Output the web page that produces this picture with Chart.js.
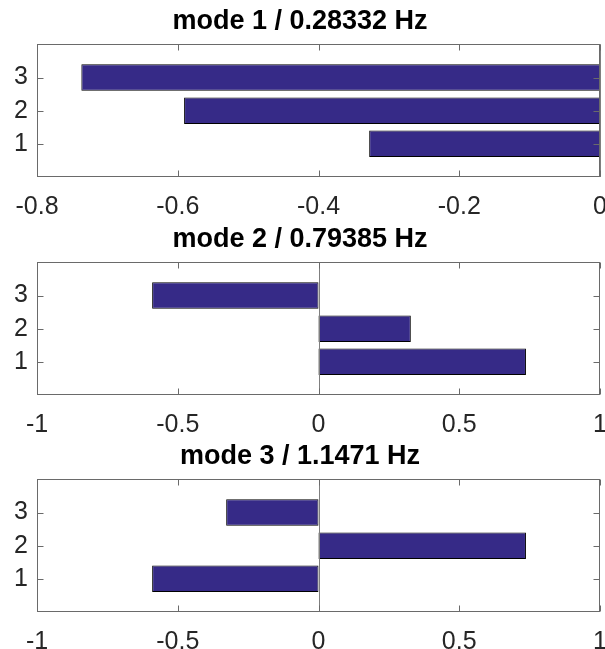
<!DOCTYPE html>
<html>
<head>
<meta charset="utf-8">
<script src="https://cdn.jsdelivr.net/npm/chart.js@4.4.1/dist/chart.umd.min.js"></script>
<style>
  html, body { margin: 0; padding: 0; background: #fff; overflow: hidden; width: 605px; height: 649px; }
  .panel { position: absolute; left: 0; width: 605px; height: 218px; }
</style>
</head>
<body>
<div class="panel" style="top:0px"><canvas id="c1"></canvas></div>
<div class="panel" style="top:218px"><canvas id="c2"></canvas></div>
<div class="panel" style="top:435px"><canvas id="c3"></canvas></div>
<script>
// ---- data ----
const categories = [1, 2, 3];
const titles = ['mode 1 / 0.28332 Hz', 'mode 2 / 0.79385 Hz', 'mode 3 / 1.1471 Hz'];
const mode1 = [-0.328, -0.591, -0.737];
const mode2 = [0.737, 0.328, -0.591];
const mode3 = [-0.591, 0.737, -0.328];
const xTicks1 = [-0.8, -0.6, -0.4, -0.2, 0];
const xTicks23 = [-1, -0.5, 0, 0.5, 1];
const yTicks = [1, 2, 3];

const FONT = "'Liberation Sans', Arial, Helvetica, sans-serif";
const BAR_COLOR = '#362a87';
const BOX_COLOR = '#6a6a6a';

const boxPlugin = {
  id: 'matlabBox',
  afterDatasetsDraw(chart) {
    const ctx = chart.ctx;
    const a = chart.chartArea;
    const xs = chart.scales.x, ys = chart.scales.y;
    ctx.save();
    // baseline at x = 0
    const x0 = Math.round(xs.getPixelForValue(0)) + 0.5;
    ctx.strokeStyle = '#7f7f7f';
    ctx.lineWidth = 1;
    ctx.beginPath();
    ctx.moveTo(x0, a.top);
    ctx.lineTo(x0, a.bottom);
    ctx.stroke();
    // box
    ctx.strokeStyle = BOX_COLOR;
    ctx.lineWidth = 1;
    const L = Math.round(a.left) + 0.5, R = Math.round(a.right) - 0.5;
    const T = Math.round(a.top) + 0.5, B = Math.round(a.bottom) - 0.5;
    ctx.strokeRect(L, T, R - L, B - T);
    // inward ticks
    const tl = 6;
    ctx.beginPath();
    xs.ticks.forEach(t => {
      const px = Math.round(xs.getPixelForValue(t.value)) + 0.5;
      ctx.moveTo(px, B); ctx.lineTo(px, B - tl);
      ctx.moveTo(px, T); ctx.lineTo(px, T + tl);
    });
    ys.ticks.forEach(t => {
      const py = Math.round(ys.getPixelForValue(t.value)) + 0.5;
      ctx.moveTo(L, py); ctx.lineTo(L + tl, py);
      ctx.moveTo(R, py); ctx.lineTo(R - tl, py);
    });
    ctx.stroke();
    ctx.restore();
  }
};

function makeChart(id, title, values, xTicks) {
  const data = categories.map((c, i) => ({ y: c, x: values[i] }));
  return new Chart(document.getElementById(id), {
    type: 'bar',
    data: {
      datasets: [{
        data: data,
        backgroundColor: BAR_COLOR,
        borderColor: '#000000',
        borderWidth: 1,
        borderSkipped: false,
        barPercentage: 0.8,
        categoryPercentage: 1.0
      }]
    },
    options: {
      indexAxis: 'y',
      responsive: true,
      maintainAspectRatio: false,
      animation: false,
      layout: { padding: { left: 0, right: 5, top: 0, bottom: 0 } },
      plugins: {
        legend: { display: false },
        tooltip: { enabled: false },
        title: {
          display: true,
          text: title,
          color: '#000000',
          font: { family: FONT, size: 27, weight: 'bold' },
          padding: { top: 5, bottom: 7 }
        }
      },
      scales: {
        x: {
          type: 'linear',
          min: xTicks[0],
          max: xTicks[xTicks.length - 1],
          offset: false,
          grid: { display: false, drawTicks: false },
          border: { display: false },
          afterBuildTicks(scale) { scale.ticks = xTicks.map(v => ({ value: v })); },
          afterFit(scale) { scale.height = 41; scale.paddingLeft = 0; scale.paddingRight = 0; },
          ticks: {
            color: '#262626',
            padding: 15,
            maxRotation: 0,
            autoSkip: false,
            font: { family: FONT, size: 25 },
            callback: v => String(Number(v.toFixed(2)))
          }
        },
        y: {
          type: 'linear',
          min: 0,
          max: 4,
          offset: false,
          grid: { display: false, drawTicks: false },
          border: { display: false },
          afterBuildTicks(scale) { scale.ticks = yTicks.map(v => ({ value: v })); },
          afterFit(scale) { scale.width = 37; scale.paddingTop = 0; scale.paddingBottom = 0; },
          ticks: {
            color: '#262626',
            padding: 9,
            autoSkip: false,
            font: { family: FONT, size: 25 },
            callback: v => String(v)
          }
        }
      }
    },
    plugins: [boxPlugin]
  });
}

makeChart('c1', titles[0], mode1, xTicks1);
makeChart('c2', titles[1], mode2, xTicks23);
makeChart('c3', titles[2], mode3, xTicks23);
</script>
</body>
</html>
